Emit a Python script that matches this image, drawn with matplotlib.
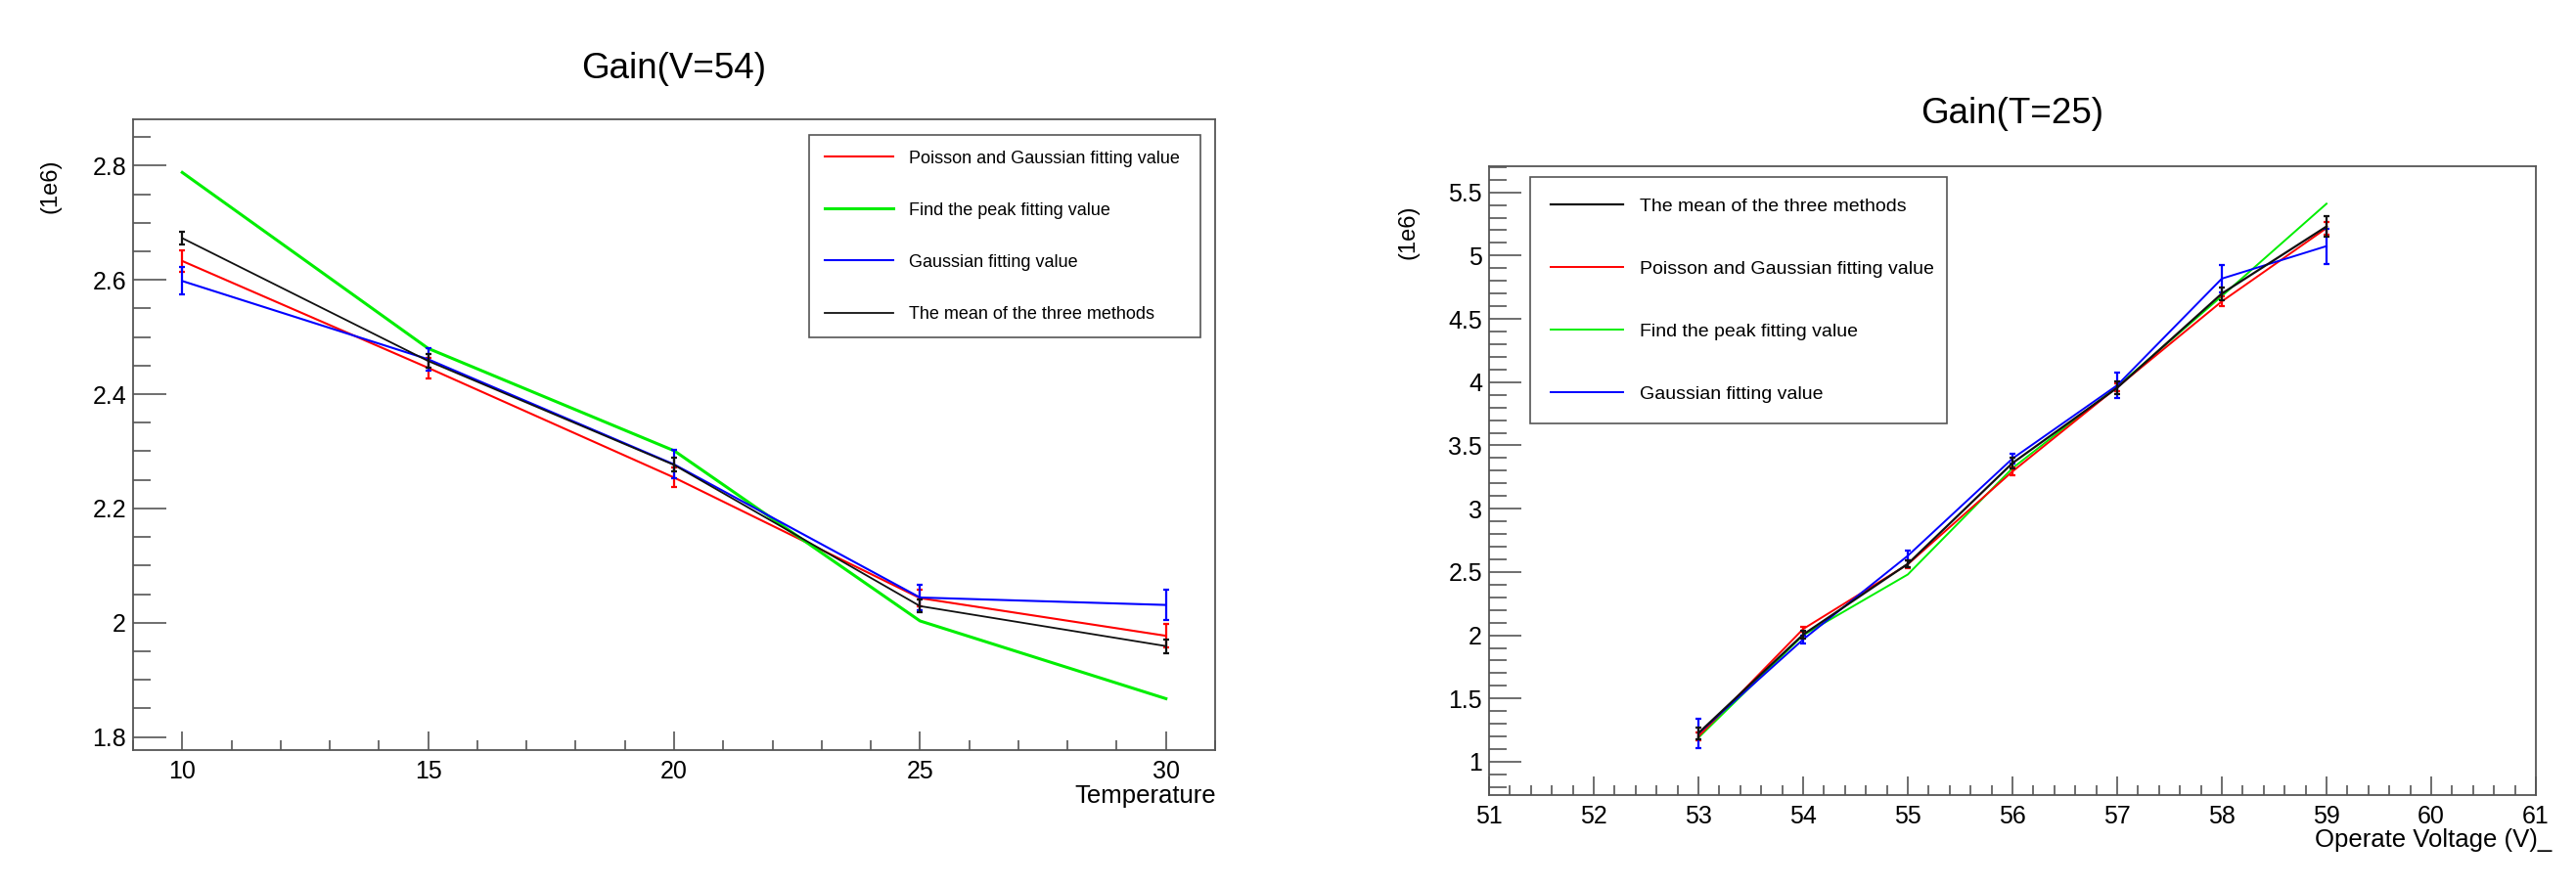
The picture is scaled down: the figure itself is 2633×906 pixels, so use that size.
import matplotlib.pyplot as plt
from matplotlib.ticker import MultipleLocator

plt.rcParams['font.family'] = ['Liberation Sans', 'DejaVu Sans']

W, H = 2633, 906

# left panel: gain (1e6) vs temperature, V = 54
temp = [10, 15, 20, 25, 30]
temp_poisson = [2.633, 2.446, 2.254, 2.043, 1.977]
temp_poisson_err = [0.019, 0.018, 0.017, 0.015, 0.020]
temp_peak = [2.788, 2.480, 2.301, 2.003, 1.867]
temp_gauss = [2.598, 2.461, 2.277, 2.044, 2.031]
temp_gauss_err = [0.024, 0.020, 0.025, 0.022, 0.026]
temp_mean = [2.673, 2.458, 2.276, 2.029, 1.959]
temp_mean_err = [0.011, 0.012, 0.012, 0.011, 0.012]

# right panel: gain (1e6) vs operate voltage, T = 25
volt = [53, 54, 55, 56, 57, 58, 59]
volt_mean = [1.226, 2.005, 2.564, 3.360, 3.955, 4.700, 5.230]
volt_mean_err = [0.045, 0.030, 0.030, 0.040, 0.050, 0.050, 0.080]
volt_poisson = [1.200, 2.049, 2.560, 3.294, 3.960, 4.638, 5.217]
volt_poisson_err = [0.030, 0.020, 0.030, 0.030, 0.030, 0.040, 0.050]
volt_peak = [1.190, 2.000, 2.480, 3.320, 3.965, 4.680, 5.410]
volt_gauss = [1.224, 1.966, 2.628, 3.396, 3.975, 4.818, 5.075]
volt_gauss_err = [0.116, 0.030, 0.040, 0.040, 0.100, 0.110, 0.140]

LBL_POISSON = "Poisson and Gaussian fitting value"
LBL_PEAK = "Find the peak fitting value"
LBL_GAUSS = "Gaussian fitting value"
LBL_MEAN = "The mean of the three methods"

FRAME = "#555555"
GREEN = "#00ee00"


def px(x, y):
    # pixel position (from top-left) -> figure fraction
    return x / W, 1 - y / H


def axes_box(x0, y0, x1, y1):
    return [x0 / W, 1 - y1 / H, (x1 - x0) / W, (y1 - y0) / H]


def style_axes(ax, ymaj, ymin, xmaj, xmin, ylen, xlen):
    for s in ax.spines.values():
        s.set_color(FRAME)
        s.set_linewidth(1.3)
    ax.xaxis.set_major_locator(MultipleLocator(xmaj))
    ax.xaxis.set_minor_locator(MultipleLocator(xmin))
    ax.yaxis.set_major_locator(MultipleLocator(ymaj))
    ax.yaxis.set_minor_locator(MultipleLocator(ymin))
    ax.tick_params(axis="y", which="major", direction="in", length=ylen[0], width=1.2,
                   color=FRAME, pad=5, labelsize=18, right=False)
    ax.tick_params(axis="y", which="minor", direction="in", length=ylen[1], width=1.2,
                   color=FRAME, right=False)
    ax.tick_params(axis="x", which="major", direction="in", length=xlen[0], width=1.2,
                   color=FRAME, pad=7, labelsize=18, top=False)
    ax.tick_params(axis="x", which="minor", direction="in", length=xlen[1], width=1.2,
                   color=FRAME, top=False)
    ax.yaxis.set_major_formatter(plt.FuncFormatter(lambda v, p: f"{v:g}"))


def add_series(ax, x, y, err, color, lw, label, z):
    line, = ax.plot(x, y, color=color, lw=lw, label=label, zorder=z)
    if err is not None:
        ax.errorbar(x, y, yerr=err, fmt="none", ecolor=color, elinewidth=1.6,
                    capsize=2, capthick=1.6, zorder=z)
    return line


fig = plt.figure(figsize=(W / 100, H / 100), dpi=100)

# ---- left panel
ax1 = fig.add_axes(axes_box(136, 122, 1242, 767))
h_red = add_series(ax1, temp, temp_poisson, temp_poisson_err, "#ff0000", 1.5, LBL_POISSON, 2)
h_grn = add_series(ax1, temp, temp_peak, None, GREEN, 2.2, LBL_PEAK, 3)
h_blu = add_series(ax1, temp, temp_gauss, temp_gauss_err, "#0000ff", 1.5, LBL_GAUSS, 4)
h_blk = add_series(ax1, temp, temp_mean, temp_mean_err, "#111111", 1.3, LBL_MEAN, 5)
ax1.set_xlim(9, 31)
ax1.set_ylim(1.777, 2.881)
style_axes(ax1, 0.2, 0.05, 5, 1, (24.5, 13), (13.7, 7))
leg1 = ax1.legend(handles=[h_red, h_grn, h_blu, h_blk], loc="upper left",
                  bbox_to_anchor=(0.6248, 0.6233, 0.3616, 0.3519), mode="expand",
                  borderaxespad=0, fontsize=13, labelspacing=2.0, borderpad=0.86,
                  handlelength=3.9, handletextpad=0.9, fancybox=False,
                  edgecolor=FRAME, framealpha=1)
leg1.get_frame().set_linewidth(1.2)

fig.text(*px(689, 80), "Gain(V=54)", ha="center", va="baseline", fontsize=26.5)
fig.text(*px(1243, 821), "Temperature", ha="right", va="baseline", fontsize=18.5)
fig.text(*px(51, 190), "(1e6)", ha="center", va="center", rotation=90, fontsize=17)

# ---- right panel
ax2 = fig.add_axes(axes_box(1522, 170, 2592, 813))
g_blk = add_series(ax2, volt, volt_mean, volt_mean_err, "#111111", 1.6, LBL_MEAN, 5)
g_red = add_series(ax2, volt, volt_poisson, volt_poisson_err, "#ff0000", 1.4, LBL_POISSON, 3)
g_grn = add_series(ax2, volt, volt_peak, None, GREEN, 1.4, LBL_PEAK, 2)
g_blu = add_series(ax2, volt, volt_gauss, volt_gauss_err, "#0000ff", 1.4, LBL_GAUSS, 4)
ax2.set_xlim(51, 61)
ax2.set_ylim(0.737, 5.706)
style_axes(ax2, 0.5, 0.1, 1, 0.2, (24, 13), (13.7, 7))
leg2 = ax2.legend(handles=[g_blk, g_red, g_grn, g_blu], loc="upper left",
                  bbox_to_anchor=(0.0393, 0.5568, 0.3981, 0.4261), mode="expand",
                  borderaxespad=0, fontsize=14, labelspacing=2.38, borderpad=1.1,
                  handlelength=3.8, handletextpad=0.87, fancybox=False,
                  edgecolor=FRAME, framealpha=1)
leg2.get_frame().set_linewidth(1.2)

fig.text(*px(2057, 126), "Gain(T=25)", ha="center", va="baseline", fontsize=26.5)
fig.text(*px(2608, 866), "Operate Voltage (V)_", ha="right", va="baseline", fontsize=18.5)
fig.text(*px(1440, 237), "(1e6)", ha="center", va="center", rotation=90, fontsize=17)

fig.savefig("out.png", dpi=100)
